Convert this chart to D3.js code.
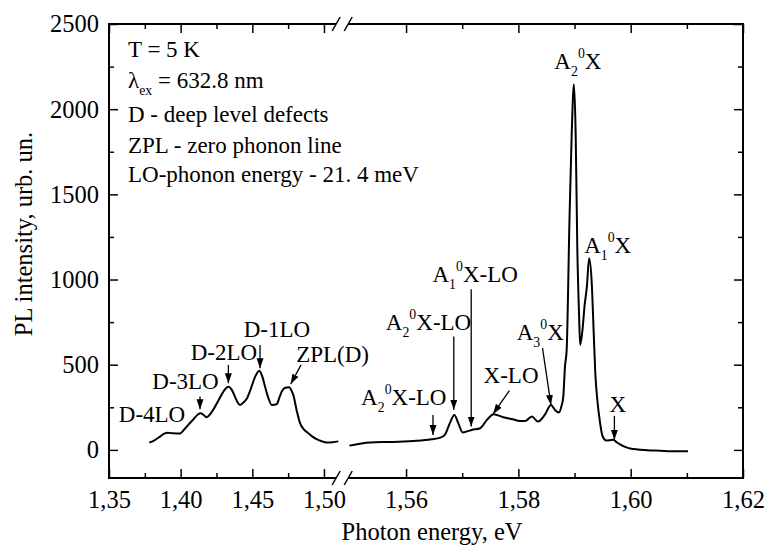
<!DOCTYPE html>
<html>
<head>
<meta charset="utf-8">
<script src="https://cdn.jsdelivr.net/npm/d3@7/dist/d3.min.js"></script>
<style>
  body { margin: 0; background: #fff; }
</style>
</head>
<body>
<svg id="chart" width="768" height="552"></svg>
<script>
// left part of the spectrum (deep level defects), eV / counts
const leftEnergy = [1.3781, 1.3820, 1.3856, 1.3885, 1.3910, 1.3950, 1.3995, 1.4025, 1.4053, 1.4090,
  1.4120, 1.4140, 1.4160, 1.4182, 1.4210, 1.4240, 1.4270, 1.4300, 1.4333, 1.4355,
  1.4380, 1.4400, 1.4414, 1.4440, 1.4461, 1.4490, 1.4520, 1.4549, 1.4570, 1.4589,
  1.4610, 1.4636, 1.4670, 1.4690, 1.4705, 1.4730, 1.4756, 1.4775, 1.4786, 1.4810,
  1.4833, 1.4860, 1.4891, 1.4920, 1.4949, 1.4980, 1.5019, 1.5060, 1.5100];
const leftIntensity = [43, 58, 78, 95, 100, 97, 96, 120, 147, 180,
  208, 215, 205, 192, 215, 254, 300, 345, 371, 355,
  310, 275, 264, 280, 300, 360, 430, 465, 430, 371,
  310, 264, 268, 310, 342, 365, 368, 345, 323, 230,
  157, 120, 98, 78, 63, 52, 43, 45, 50];

// right part of the spectrum (excitonic lines)
const rightEnergy = [1.5499, 1.5536, 1.5572, 1.5619, 1.5645, 1.5661, 1.5669, 1.5678, 1.5686, 1.5693,
  1.5701, 1.5710, 1.5717, 1.5732, 1.5744, 1.5756, 1.5773, 1.5790, 1.5803, 1.5812,
  1.5824, 1.5835, 1.5847, 1.5858, 1.5865, 1.5872, 1.5877, 1.5880, 1.5883, 1.5886,
  1.5891, 1.5895, 1.5899, 1.5902, 1.5905, 1.5908, 1.5910, 1.5914, 1.5918, 1.5922,
  1.5926, 1.5931, 1.5934, 1.5937, 1.5941, 1.5945, 1.5950, 1.5957, 1.5963, 1.5969,
  1.5975, 1.5981, 1.5990, 1.5999, 1.6029, 1.6052, 1.6080, 1.6102];
const rightIntensity = [25, 43, 47, 53, 62, 72, 88, 157, 205, 157,
  102, 110, 117, 127, 176, 209, 192, 180, 170, 170,
  196, 166, 205, 264, 235, 219, 260, 313, 489, 587,
  1350, 1860, 2146, 1860, 1174, 800, 616, 700, 850, 958,
  1125, 958, 700, 450, 280, 170, 80, 55, 57, 59,
  45, 33, 18, 8, -2, -5, -8, -8];

const yTicks = [0, 500, 1000, 1500, 2000, 2500];
const yMinorTicks = [250, 750, 1250, 1750, 2250];
const xLeftTicks = [1.35, 1.40, 1.45, 1.50];
const xLeftMinor = [1.375, 1.425, 1.475];
const xRightTicks = [1.56, 1.58, 1.60, 1.62];
const xRightMinor = [1.57, 1.59, 1.61];

const infoLines = ["T = 5 K", "λ_{ex} = 632.8 nm", "D - deep level defects",
  "ZPL - zero phonon line", "LO-phonon energy - 21. 4 meV"];

// peak labels: label, label position (E, I), arrow from/to (E, I)
const leftLabels = [
  { text: "D-4LO", e: 1.3800, i: 166 },
  { text: "D-3LO", e: 1.4034, i: 358, arrow: [1.4135, 313, 1.4135, 238] },
  { text: "D-2LO", e: 1.4302, i: 528, arrow: [1.4333, 499, 1.4333, 391] },
  { text: "D-1LO", e: 1.4672, i: 661, arrow: [1.4554, 616, 1.4554, 479] },
  { text: "ZPL(D)", e: 1.5060, i: 518, arrow: [1.4840, 499, 1.4768, 387] }
];
const rightLabels = [
  { text: "A_2^0X-LO", e: 1.5596, i: 264, arrow: [1.5648, 205, 1.5648, 88] },
  { text: "A_2^0X-LO", e: 1.5640, i: 704, arrow: [1.5685, 665, 1.5685, 235] },
  { text: "A_1^0X-LO", e: 1.5723, i: 988, arrow: [1.5716, 943, 1.5716, 137] },
  { text: "X-LO", e: 1.5787, i: 391, arrow: [1.5784, 348, 1.5755, 211] },
  { text: "A_3^0X", e: 1.5839, i: 645, arrow: [1.5843, 597, 1.5858, 264] },
  { text: "A_1^0X", e: 1.5959, i: 1154 },
  { text: "A_2^0X", e: 1.5906, i: 2236 },
  { text: "X", e: 1.5977, i: 225, arrow: [1.5971, 200, 1.5971, 59] }
];

const FONT = '"Liberation Serif", "Times New Roman", serif';
const pL = 109, pR = 743, pT = 24, pB = 478;
const xLeft = d3.scaleLinear().domain([1.35, 1.51]).range([pL, 338.3]);
const xRight = d3.scaleLinear().domain([1.55, 1.62]).range([349.9, pR]);
const y = d3.scaleLinear().domain([-165, 2500]).range([pB, pT]);

const svg = d3.select("#chart").style("font-family", FONT);
const fmt = d => d.toFixed(2).replace(".", ",");

svg.append("defs").append("marker")
  .attr("id", "head")
  .attr("markerUnits", "userSpaceOnUse")
  .attr("markerWidth", 10).attr("markerHeight", 8)
  .attr("refX", 10).attr("refY", 3.5)
  .attr("orient", "auto")
  .append("path").attr("d", "M0,0L10,3.5L0,7Z").attr("fill", "#000");

// ticks
function ticks(axis, tr, size, vals, labels) {
  const g = svg.append("g").attr("transform", tr)
    .call(axis.tickValues(vals).tickSize(-size)
      .tickFormat(labels ? labels : () => ""));
  g.attr("font-family", null).attr("font-size", null);
  g.select(".domain").remove();
  g.selectAll("line").attr("stroke", "#000").attr("stroke-width", 1.5);
  g.selectAll("text").style("font-family", FONT).attr("font-size", 24.5).attr("fill", "#000");
  return g;
}
ticks(d3.axisBottom(xLeft).tickPadding(13), `translate(0,${pB})`, 9, xLeftTicks, fmt);
ticks(d3.axisBottom(xLeft), `translate(0,${pB})`, 5, xLeftMinor);
ticks(d3.axisBottom(xRight).tickPadding(13), `translate(0,${pB})`, 9, xRightTicks, fmt);
ticks(d3.axisBottom(xRight), `translate(0,${pB})`, 5, xRightMinor);
ticks(d3.axisTop(xLeft), `translate(0,${pT})`, 9, xLeftTicks);
ticks(d3.axisTop(xLeft), `translate(0,${pT})`, 5, xLeftMinor);
ticks(d3.axisTop(xRight), `translate(0,${pT})`, 9, xRightTicks);
ticks(d3.axisTop(xRight), `translate(0,${pT})`, 5, xRightMinor);
ticks(d3.axisLeft(y).tickPadding(10), `translate(${pL},0)`, 9, yTicks, d => d);
ticks(d3.axisLeft(y), `translate(${pL},0)`, 5, yMinorTicks);
ticks(d3.axisRight(y), `translate(${pR},0)`, 9, yTicks);
ticks(d3.axisRight(y), `translate(${pR},0)`, 5, yMinorTicks);

// frame with the axis break
const b1 = xLeft(1.5085), b2 = xRight(1.5497);
const frame = svg.append("g").attr("stroke", "#000").attr("stroke-width", 2).attr("fill", "none");
frame.append("path").attr("d",
  `M${b1},${pT}H${pL}V${pB}H${b1}M${b2},${pB}H${pR}V${pT}H${b2}`);
[pT, pB].forEach(yy => {
  [b1, b2].forEach(bx => {
    frame.append("line").attr("stroke-width", 1.5)
      .attr("x1", bx - 4).attr("y1", yy + 7).attr("x2", bx + 4).attr("y2", yy - 7);
  });
});

// spectrum
const line = x => d3.line().x(d => x(d[0])).y(d => y(d[1])).curve(d3.curveMonotoneX);
svg.append("path").datum(d3.zip(leftEnergy, leftIntensity))
  .attr("d", line(xLeft)).attr("fill", "none").attr("stroke", "#000").attr("stroke-width", 2);
svg.append("path").datum(d3.zip(rightEnergy, rightIntensity))
  .attr("d", line(xRight)).attr("fill", "none").attr("stroke", "#000").attr("stroke-width", 2);

// text with _sub and ^sup
function rich(sel, str, size) {
  const parts = str.split(/(_\{[^}]*\}|\^\{[^}]*\}|_.|\^.)/).filter(s => s);
  let off = 0;
  parts.forEach(p => {
    let shift = 0, t = p, fs = size;
    if (p[0] === "_") { shift = 7; fs = size * 0.6; }
    else if (p[0] === "^") { shift = -11; fs = size * 0.6; }
    if (p[0] === "_" || p[0] === "^") t = p.slice(1).replace(/[{}]/g, "");
    sel.append("tspan").attr("dy", shift - off).attr("font-size", fs)
      .style("font-family", FONT).text(t);
    off = shift;
  });
}

function labels(list, x) {
  list.forEach(d => {
    const t = svg.append("text").attr("x", x(d.e)).attr("y", y(d.i))
      .attr("text-anchor", "middle").attr("font-size", 23).style("font-family", FONT);
    rich(t, d.text, 23);
    if (d.arrow) {
      svg.append("line")
        .attr("x1", x(d.arrow[0])).attr("y1", y(d.arrow[1]))
        .attr("x2", x(d.arrow[2])).attr("y2", y(d.arrow[3]))
        .attr("stroke", "#000").attr("stroke-width", 1.3)
        .attr("marker-end", "url(#head)");
    }
  });
}
labels(leftLabels, xLeft);
labels(rightLabels, xRight);

const infoY = [56.7, 87.7, 122, 153.3, 181.7];
infoLines.forEach((s, k) => {
  const t = svg.append("text").attr("x", 128).attr("y", infoY[k])
    .attr("font-size", 23).style("font-family", FONT);
  rich(t, s, 23);
});

// axis titles
svg.append("text").attr("x", 432).attr("y", 540).attr("text-anchor", "middle")
  .attr("font-size", 24.5).style("font-family", FONT).text("Photon energy, eV");
svg.append("text").attr("transform", "translate(32,234) rotate(-90)")
  .attr("text-anchor", "middle").attr("font-size", 24.5).style("font-family", FONT)
  .text("PL intensity, urb. un.");
</script>
</body>
</html>
